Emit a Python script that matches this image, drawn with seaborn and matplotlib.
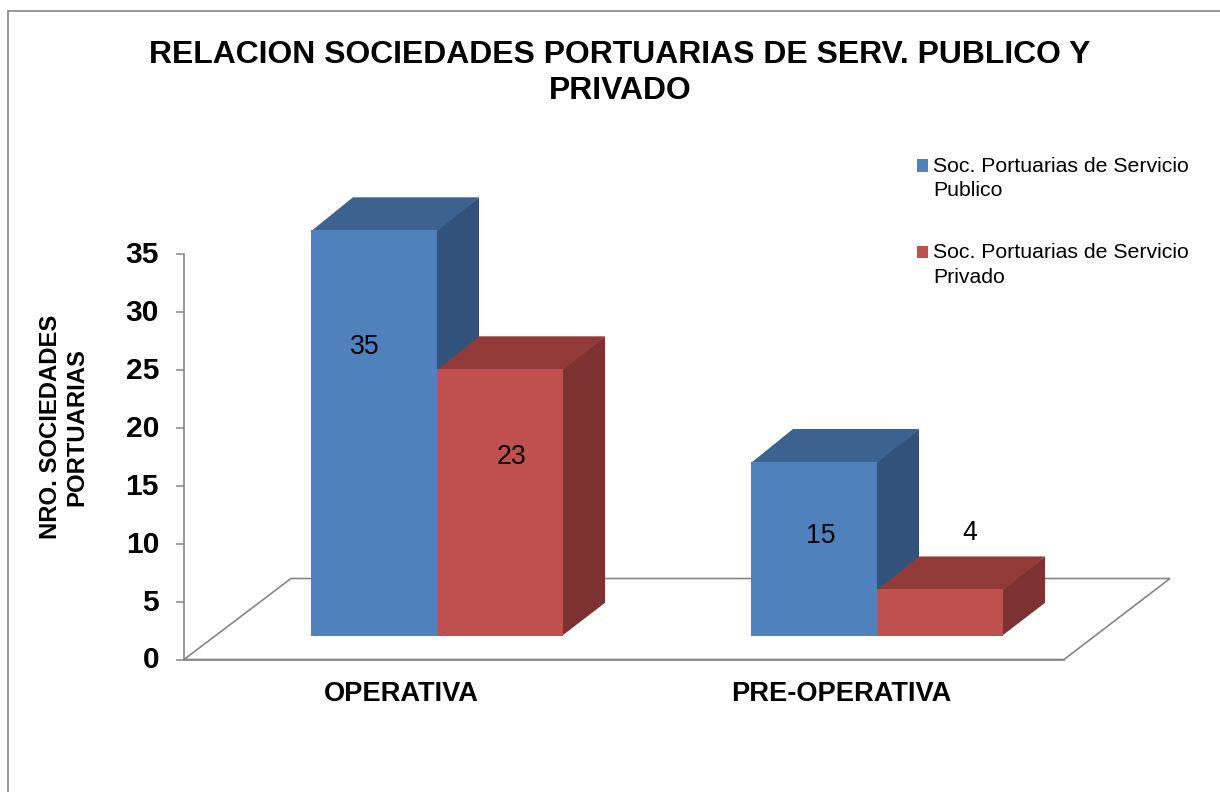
import matplotlib
matplotlib.use("Agg")
import matplotlib.pyplot as plt
from matplotlib.lines import Line2D
from matplotlib.patches import Polygon
from matplotlib.transforms import Affine2D
import seaborn as sns
import pandas as pd

categories = ["OPERATIVA", "PRE-OPERATIVA"]
series_names = ["Soc. Portuarias de Servicio\nPublico", "Soc. Portuarias de Servicio\nPrivado"]
publico = [35, 15]
privado = [23, 4]
yticks = [0, 5, 10, 15, 20, 25, 30, 35]

title = "RELACION SOCIEDADES PORTUARIAS DE SERV. PUBLICO Y\nPRIVADO"
ylabel = "NRO. SOCIEDADES\nPORTUARIAS"

W, H = 1220, 792
GRAY = "#868686"
front = ["#4F81BD", "#C0504D"]
top = ["#3C6290", "#913A38"]
side = ["#31537B", "#7C3230"]

df = pd.DataFrame({
    "categoria": categories * 2,
    "serie": [series_names[0]] * 2 + [series_names[1]] * 2,
    "valor": publico + privado,
})

sns.set_theme(style="white")
plt.rcParams["font.family"] = ["Liberation Sans", "DejaVu Sans"]

fig = plt.figure(figsize=(W / 100, H / 100), dpi=100)
ax = fig.add_axes([184 / W, 1 - 659.5 / H, 880 / W, 405.5 / H])

sns.barplot(data=df, x="categoria", y="valor", hue="serie", hue_order=series_names,
            palette=front, saturation=1, width=0.573, gap=0, linewidth=0, ax=ax)
ax.set_xlim(-0.5, 1.5)
ax.set_ylim(0, 35)

# fake 3D: bars sit back on the floor, depth goes up and to the right
px_x = 2 / 880
px_y = 35 / 405.5
lift = 23.7 * px_y
shift = 33 * px_x
dx, dy = 42 * px_x, 33 * px_y

# floor
fx0, fx1 = ax.get_xlim()
floor = Polygon([(fx0, 0), (fx0 + 107 * px_x, 81 * px_y), (fx1 + 106 * px_x, 81 * px_y), (fx1, 0)],
                closed=True, fill=False, edgecolor=GRAY, linewidth=1.2, zorder=0.5, clip_on=False)
ax.add_patch(floor)

z = 2
for s, cont in enumerate(ax.containers):
    for bar in cont:
        bar.set_x(bar.get_x() + shift)
        bar.set_y(lift)
        bar.set_clip_on(False)
        x0 = bar.get_x()
        x1 = x0 + bar.get_width()
        y0 = lift
        y1 = lift + bar.get_height()
        # side and top run 1px under the front face so no seam shows
        ax.add_patch(Polygon([(x1 - px_x, y0), (x1 + dx, y0 + dy), (x1 + dx, y1 + dy), (x1 - px_x, y1)],
                             color=side[s], lw=0, zorder=z, clip_on=False))
        ax.add_patch(Polygon([(x0, y1 - px_y), (x0 + dx, y1 + dy), (x1 + dx, y1 + dy), (x1, y1 - px_y)],
                             color=top[s], lw=0, zorder=z + 0.1, clip_on=False))
        bar.set_zorder(z + 0.2)
    z += 1

sns.despine(ax=ax, top=True, right=True)
for name in ["left", "bottom"]:
    ax.spines[name].set_color(GRAY)
    ax.spines[name].set_linewidth(1.2)

ax.set_yticks(yticks)
ax.set_xlabel("")
ax.set_ylabel("")
ax.tick_params(axis="y", left=True, length=6, width=1.1, color=GRAY, pad=12, labelcolor="black")
ax.tick_params(axis="x", bottom=False, pad=9.5, labelcolor="black")
for lab in ax.get_yticklabels():
    lab.set_fontsize(21.6)
    lab.set_fontweight("bold")
    lab.set_transform(lab.get_transform() + Affine2D().translate(0, 2))
for lab in ax.get_xticklabels():
    lab.set_fontsize(19.6)
    lab.set_fontweight("bold")
    lab.set_transform(lab.get_transform() + Affine2D().translate(-3, 0))

fig.text(620 / W, 1 - 73 / H, title, ha="center", va="center", fontsize=22.95, fontweight="bold",
         color="black", linespacing=1.22)
fig.text(64 / W, 1 - 427 / H, ylabel, ha="center", va="center", rotation=90, fontsize=17.2,
         fontweight="bold", color="black", linespacing=1.18)

# value labels
label_pos = [(365, 347), (512, 457), (821, 536), (970, 533)]
for (lx, ly), v in zip(label_pos, publico[:1] + privado[:1] + publico[1:] + privado[1:]):
    fig.text(lx / W, 1 - ly / H, str(v), ha="center", va="center", fontsize=19.2, color="black", zorder=10)

# legend, squares lined up with first text line
leg = ax.legend(loc="upper left", bbox_to_anchor=(917 / W, 1 - 157 / H), bbox_transform=fig.transFigure,
                frameon=False, fontsize=15.3, handlelength=0.52, handleheight=0.52, handletextpad=0.24,
                labelspacing=2.03, borderpad=0, borderaxespad=0, title=None)
for t in leg.get_texts():
    t.set_linespacing(1.35)
    t.set_color("black")
for p in leg.get_patches():
    p.set_y(p.get_y() + 9.5)

# chart frame, only top and left show
fig.add_artist(Line2D([8 / W, 1], [1 - 11 / H, 1 - 11 / H], color=GRAY, lw=1.2))
fig.add_artist(Line2D([8 / W, 8 / W], [1 - 11 / H, 0], color=GRAY, lw=1.2))

fig.savefig("out.png", dpi=100)
